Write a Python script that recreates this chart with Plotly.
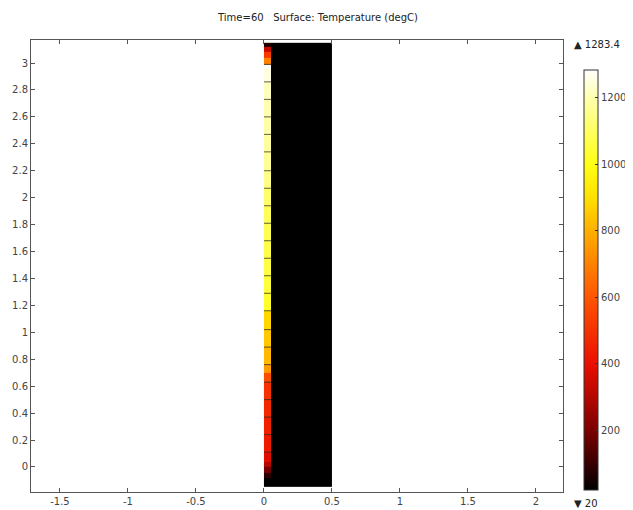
import plotly.graph_objects as go

# ---- data ----
title_text = "Time=60   Surface: Temperature (degC)"
t_min = 20
t_max = 1283.4

# x edges of the domain: thin hot strip at the left edge, then the cold block
x_edges = [0.0, 0.055, 0.5]

# y edges (top to bottom) of the strip cells and the strip temperatures (degC)
strip_y_edges = [3.15, 3.12, 3.08, 3.04, 2.99, 2.96, 2.86, 2.73, 2.60, 2.47, 2.34,
                 2.20, 2.07, 1.94, 1.81, 1.68, 1.55, 1.42, 1.29, 1.16, 1.02, 0.89,
                 0.76, 0.70, 0.63, 0.50, 0.37, 0.24, 0.11, 0.04, 0.0, -0.04,
                 -0.08, -0.15]
strip_temp = [60, 330, 520, 700, 1283, 1250, 1215, 1200, 1190, 1180,
              1170, 1150, 1110, 1090, 1080, 1070, 1060, 1050, 1030, 880,
              850, 820, 760, 580, 500, 470, 450, 430, 380, 300,
              190, 80, 20]
block_temp = 20

# mesh element boundaries visible in the strip
mesh_y = [2.99, 2.86, 2.73, 2.60, 2.47, 2.34, 2.20, 2.07, 1.94, 1.81, 1.68, 1.55,
          1.42, 1.29, 1.16, 1.02, 0.89, 0.76, 0.63, 0.50, 0.37, 0.24, 0.11]

x_ticks = [-1.5, -1, -0.5, 0, 0.5, 1, 1.5, 2]
x_tick_labels = ["-1.5", "-1", "-0.5", "0", "0.5", "1", "1.5", "2"]
y_ticks = [0, 0.2, 0.4, 0.6, 0.8, 1, 1.2, 1.4, 1.6, 1.8, 2, 2.2, 2.4, 2.6, 2.8, 3]
y_tick_labels = ["0", "0.2", "0.4", "0.6", "0.8", "1", "1.2", "1.4", "1.6", "1.8",
                 "2", "2.2", "2.4", "2.6", "2.8", "3"]
cbar_ticks = [200, 400, 600, 800, 1000, 1200]

x_range = [-1.713, 2.199]
y_range = [-0.186, 3.171]

# ---- colour map (black -> red -> orange -> yellow -> white) ----
span = t_max - t_min
def n(v):
    return (v - t_min) / span

colorscale = [
    [0.0, "rgb(0,0,0)"],
    [n(200), "rgb(125,0,0)"],
    [n(400), "rgb(235,15,0)"],
    [n(600), "rgb(255,85,0)"],
    [n(800), "rgb(255,175,0)"],
    [n(900), "rgb(255,225,0)"],
    [n(1000), "rgb(255,255,20)"],
    [n(1200), "rgb(255,255,175)"],
    [1.0, "rgb(255,255,255)"],
]

z = [[t, block_temp] for t in strip_temp]

font_family = "DejaVu Sans"
txt_color = "#444"

# page puts the figure 8 px in from the top-left corner
OFF = 8
W, H = 633 - OFF, 510 - OFF
L, T = 31 - OFF, 40 - OFF
PW, PH = 532, 452

fig = go.Figure()
fig.add_trace(go.Heatmap(
    x=x_edges, y=strip_y_edges, z=z,
    zmin=t_min, zmax=t_max, colorscale=colorscale,
    hoverinfo="skip",
    colorbar=dict(
        x=(584 - 31) / PW, xanchor="left", xpad=0,
        y=(492 - 280) / PH, yanchor="middle", ypad=0,
        lenmode="pixels", len=420, thickness=14,
        outlinewidth=1, outlinecolor="#333",
        tickvals=cbar_ticks, ticks="inside", ticklen=3, tickcolor="#333",
        tickfont=dict(family=font_family, size=10, color=txt_color),
    ),
))

mx, my = [], []
for yv in mesh_y:
    mx += [x_edges[0], x_edges[1], None]
    my += [yv, yv, None]
fig.add_trace(go.Scatter(x=mx, y=my, mode="lines",
                         line=dict(color="rgba(40,40,40,0.75)", width=1),
                         hoverinfo="skip", showlegend=False))

axis_common = dict(
    showgrid=False, zeroline=False, showline=True, linecolor="#555",
    linewidth=1, mirror="ticks", ticks="inside", ticklen=4, tickcolor="#555",
    automargin=False,
    tickfont=dict(family=font_family, size=10, color=txt_color),
)

fig.update_layout(
    width=W, height=H,
    margin=dict(l=L, r=W - L - PW, t=T, b=H - T - PH, autoexpand=False),
    paper_bgcolor="white", plot_bgcolor="white",
    showlegend=False,
    title=dict(text=title_text, x=(318 - OFF) / W, xanchor="center",
               y=1 - (17 - OFF) / H, yanchor="middle",
               font=dict(family=font_family, size=10, color="#222")),
    xaxis=dict(range=x_range, tickvals=x_ticks, ticktext=x_tick_labels, **axis_common),
    yaxis=dict(range=y_range, tickvals=y_ticks, ticktext=y_tick_labels, **axis_common),
    annotations=[
        dict(text="▲ " + str(t_max), xref="paper", yref="paper",
             x=(572 - 31) / PW, y=(492 - 45) / PH, xanchor="left", yanchor="middle",
             showarrow=False, font=dict(family=font_family, size=10, color="#222")),
        dict(text="▼ " + str(t_min), xref="paper", yref="paper",
             x=(572 - 31) / PW, y=(492 - 503) / PH, xanchor="left", yanchor="middle",
             showarrow=False, font=dict(family=font_family, size=10, color="#222")),
    ],
)

fig.write_html("out.html")
